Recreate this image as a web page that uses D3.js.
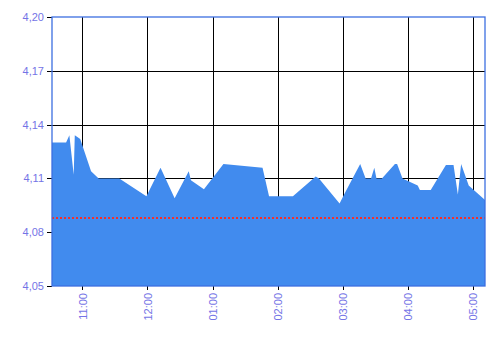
<!DOCTYPE html>
<html lang="en">
<head>
    <meta charset="UTF-8">
    <title>Area chart</title>
    <script src="https://d3js.org/d3.v7.min.js"></script>
    <style>
        body { margin: 0; background: #fff; }
        .grid line { stroke: #000; stroke-width: 1; shape-rendering: crispEdges; }
        .axis text { fill: #7474e6; font-family: "Liberation Sans", Arial, sans-serif; font-size: 11px; }
        .axis path { display: none; }
        .axis line { stroke: #000; shape-rendering: crispEdges; }
        .frame { fill: none; stroke: #3c6fe0; stroke-width: 1.3; }
        .area { fill: #418bee; }
        .avg { stroke: #f0302c; stroke-width: 2; stroke-dasharray: 2,2; shape-rendering: crispEdges; }
    </style>
</head>
<body>
    <div id="chart"></div>
    <script>
        const width = 500, height = 340;
        const margin = { top: 17, right: 15, bottom: 54, left: 52 };

        // times (HH:MM, 24h) and values
        const times = ["10:32","10:45","10:48","10:52","10:53","10:58","11:08","11:15","11:34","11:59",
            "12:12","12:25","12:38","12:40","12:52","13:10","13:46","13:52","14:14","14:35",
            "14:38","14:57","15:02","15:16","15:21","15:26","15:29","15:31","15:36","15:48",
            "15:50","15:55","16:09","16:11","16:21","16:35","16:42","16:46","16:49","16:56","17:11"];
        const values = [4.130,4.130,4.134,4.112,4.134,4.132,4.114,4.110,4.110,4.100,
            4.116,4.099,4.114,4.109,4.104,4.118,4.116,4.100,4.100,4.111,
            4.110,4.096,4.102,4.118,4.110,4.110,4.116,4.110,4.110,4.118,
            4.118,4.110,4.106,4.1035,4.1035,4.1175,4.1175,4.101,4.118,4.106,4.098];
        const average = 4.0878;
        const yTicks = [4.05, 4.08, 4.11, 4.14, 4.17, 4.20];
        const xTickHours = [11, 12, 13, 14, 15, 16, 17];

        const parse = d3.timeParse("%H:%M");
        const data = times.map((t, i) => ({ t: parse(t), v: values[i] }));

        const w = width - margin.left - margin.right;
        const h = height - margin.top - margin.bottom;

        const svg = d3.select("#chart").append("svg")
            .attr("width", width).attr("height", height)
            .append("g")
            .attr("transform", `translate(${margin.left},${margin.top})`);

        const x = d3.scaleTime().domain(d3.extent(data, d => d.t)).range([0, w]);
        const y = d3.scaleLinear().domain([4.05, 4.20]).range([h, 0]);

        const xTicks = xTickHours.map(hr => { const d = parse("00:00"); d.setHours(hr); return d; });

        // grid
        const grid = svg.append("g").attr("class", "grid");
        grid.selectAll(".gx").data(xTicks).join("line")
            .attr("x1", d => Math.round(x(d)) + 0.5).attr("x2", d => Math.round(x(d)) + 0.5)
            .attr("y1", 0).attr("y2", h);
        grid.selectAll(".gy").data(yTicks.slice(1, -1)).join("line")
            .attr("x1", 0).attr("x2", w)
            .attr("y1", d => Math.round(y(d)) + 0.5).attr("y2", d => Math.round(y(d)) + 0.5);

        // area
        svg.append("path")
            .datum(data)
            .attr("class", "area")
            .attr("d", d3.area().x(d => x(d.t)).y0(h).y1(d => y(d.v)));

        // average line
        svg.append("line")
            .attr("class", "avg")
            .attr("x1", 0).attr("x2", w)
            .attr("y1", Math.round(y(average))).attr("y2", Math.round(y(average)));

        // axes
        svg.append("g")
            .attr("class", "axis")
            .call(d3.axisLeft(y).tickValues(yTicks).tickSize(5).tickPadding(3)
                .tickFormat(d => d3.format(".2f")(d).replace(".", ",")));

        svg.append("g")
            .attr("class", "axis")
            .attr("transform", `translate(0,${h})`)
            .call(d3.axisBottom(x).tickValues(xTicks).tickSize(4).tickFormat(d3.timeFormat("%I:%M")))
            .selectAll("text")
            .attr("transform", "rotate(-90)")
            .attr("text-anchor", "end")
            .attr("dy", "0.35em")
            .attr("x", -7)
            .attr("y", 0);

        // frame
        svg.append("rect")
            .attr("class", "frame")
            .attr("x", 0).attr("y", 0)
            .attr("width", w).attr("height", h);
    </script>
</body>
</html>
